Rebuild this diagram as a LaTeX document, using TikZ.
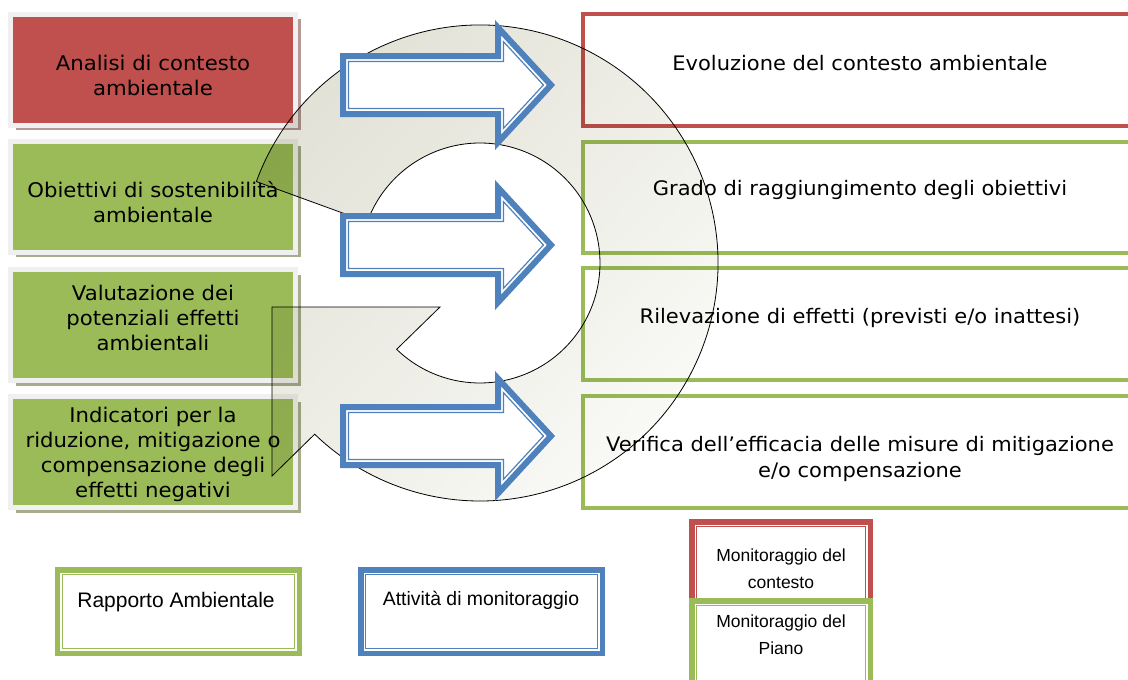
\documentclass[tikz,border=0pt]{standalone}
\usepackage{fontspec}
\newfontfamily\verdanaish[FakeStretch=1.05]{DejaVu Sans}
\newfontfamily\arialish{Liberation Sans}
\usetikzlibrary{calc,shadows,shadings}

\definecolor{ctxred}{HTML}{C0504D}
\definecolor{plangreen}{HTML}{9BBB59}
\definecolor{monblue}{HTML}{4F81BD}
\definecolor{framegray}{HTML}{F0F0F0}
\definecolor{redshadow}{RGB}{181,152,152}
\definecolor{greenshadow}{RGB}{166,172,140}
\definecolor{cycgray}{RGB}{220,220,208}
\definecolor{cycmid}{RGB}{238,238,230}

\tikzset{
  lbox/.style={draw=framegray, line width=5pt, minimum width=285pt, minimum height=111pt,
    inner sep=0pt, outer sep=0pt,
    drop shadow={shadow xshift=5pt, shadow yshift=-5pt, fill=#1, opacity=1}},
  ltext/.style={align=center, font=\verdanaish\fontsize{20.2}{25}\selectfont},
  rbox/.style={draw=#1, line width=4pt, fill=white, minimum width=557.5pt, minimum height=111.5pt,
    inner sep=0pt, outer sep=0pt},
  rtext/.style={align=center, font=\verdanaish\fontsize{20}{26}\selectfont},
  dbox/.style={draw=#1, line width=5.5pt, fill=white, inner sep=0pt, outer sep=0pt},
  dtext/.style={align=center, font=\arialish\fontsize{#1}{27}\selectfont},
}

\begin{document}
\begin{tikzpicture}[x=1pt, y=-1pt]
  \useasboundingbox (0,0) rectangle (1128,680);
  \clip (0,0) rectangle (1128,680);

  % rapporto ambientale (left)
  \node[lbox=redshadow, fill=ctxred] (analisi) at (153,69.5) {};
  \node[lbox=greenshadow, fill=plangreen] (obiettivi) at (153,196.5) {};
  \node[lbox=greenshadow, fill=plangreen] (valutazione) at (153,325) {};
  \node[lbox=greenshadow, fill=plangreen] (indicatori) at (153,452) {};
  \node[ltext] (analisi-t) at (153,75.5) {Analisi di contesto\\ambientale};
  \node[ltext] (obiettivi-t) at (153,202.5) {Obiettivi di sostenibilità\\ambientale};
  \node[ltext] (valutazione-t) at (153,318) {Valutazione dei\\potenziali effetti\\ambientali};
  \node[ltext] (indicatori-t) at (153,454.5) {Indicatori per la\\riduzione, mitigazione o\\compensazione degli\\effetti negativi};

  % monitoraggio (right)
  \node[rbox=ctxred] (evoluzione) at (861.25,70) {};
  \node[rbox=plangreen] (grado) at (861.25,197.25) {};
  \node[rbox=plangreen] (rilevazione) at (861.25,324) {};
  \node[rbox=plangreen] (verifica) at (861.25,452) {};
  \node[rtext] (evoluzione-t) at (860,63) {Evoluzione del contesto ambientale};
  \node[rtext] (grado-t) at (860,190) {Grado di raggiungimento degli obiettivi};
  \node[rtext] (rilevazione-t) at (860,318) {Rilevazione di effetti (previsti e/o inattesi)};
  \node[rtext] (verifica-t) at (860,459) {Verifica dell’efficacia delle misure di mitigazione\\e/o compensazione};

  % legenda
  \node[dbox=plangreen, minimum width=242pt, minimum height=83.5pt] (rapporto) at (178.25,611.5) {};
  \node[dbox=monblue, minimum width=241.5pt, minimum height=83.5pt] (attivita) at (481.5,611.5) {};
  \foreach \n/\c in {rapporto/plangreen, attivita/monblue}
    \draw[\c, line width=1.2pt] ([shift={(5,5)}]\n.north west) rectangle ([shift={(-5,-5)}]\n.south east);
  \node[dbox=ctxred, minimum width=178.5pt, minimum height=103pt] (moncont) at (781,573.25) {};
  \draw[ctxred, line width=1.2pt] ([shift={(5,5)}]moncont.north west) rectangle ([shift={(-5,-5)}]moncont.south east);
  \node[dbox=plangreen, minimum width=178.5pt, minimum height=100pt] (monpiano) at (781,650.75) {};
  \draw[plangreen, line width=1.2pt] ([shift={(5,5)}]monpiano.north west) rectangle ([shift={(-5,-5)}]monpiano.south east);
  \node[dtext=21] (rapporto-t) at (176,602) {Rapporto Ambientale};
  \node[dtext=19.4] (attivita-t) at (481,600) {Attività di monitoraggio};
  \node[dtext=17.5] (moncont-t) at (781,568.5) {Monitoraggio del\\contesto};
  \node[dtext=17.5] (monpiano-t) at (781,635) {Monitoraggio del\\Piano};

  % freccia circolare
  \coordinate (ctr) at (480,263);
  \begin{scope}[blend mode=multiply]
    \shade[draw=black, line width=0.8pt, upper left=cycgray, upper right=cycmid,
      lower left=cycmid, lower right=white]
      ($(ctr)+(-160:238)$) arc[start angle=-160, end angle=134, radius=238]
      -- (272,476) -- (272,307) -- (440,307) -- ($(ctr)+(134:120)$)
      arc[start angle=134, end angle=-160, radius=120] -- cycle;
  \end{scope}

  % frecce blu
  \foreach \ty in {85,245,436}{
    \draw[monblue, line width=6pt, fill=white, line join=miter]
      (343,\ty-29) -- (498,\ty-29) -- (498,\ty-57.4) -- (551,\ty)
      -- (498,\ty+57.4) -- (498,\ty+29) -- (343,\ty+29) -- cycle;
    \draw[monblue, line width=1.2pt, line join=miter]
      (348.5,\ty-23.5) -- (503.5,\ty-23.5) -- (503.5,\ty-43.3) -- (543.4,\ty)
      -- (503.5,\ty+43.3) -- (503.5,\ty+23.5) -- (348.5,\ty+23.5) -- cycle;
  }
\end{tikzpicture}
\end{document}
